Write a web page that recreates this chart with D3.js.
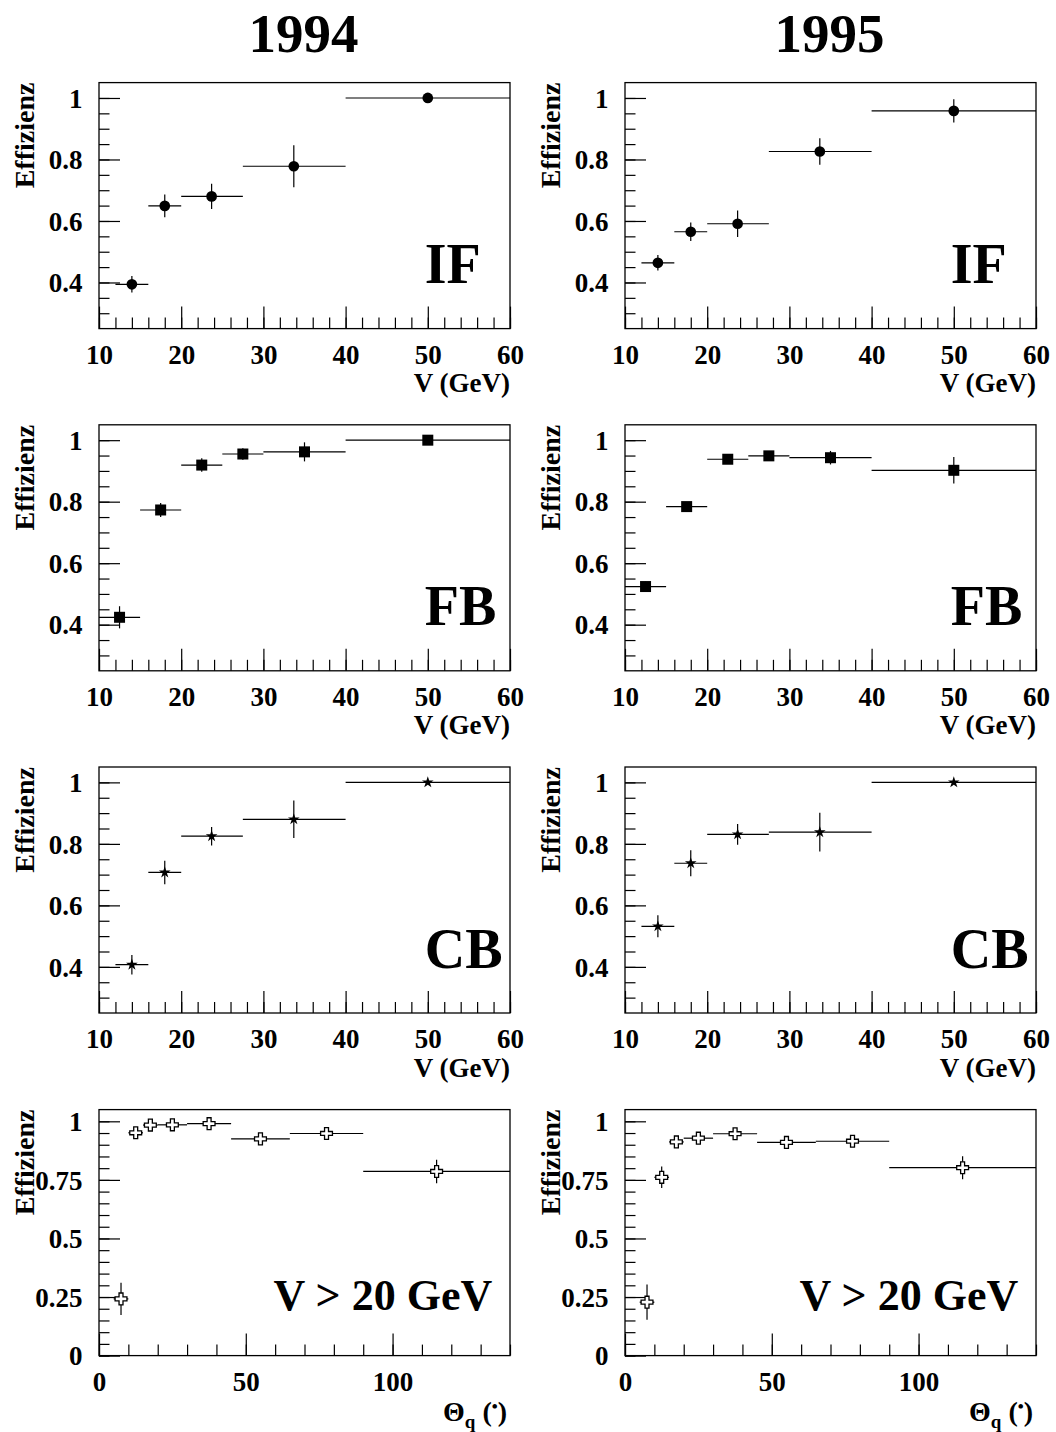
<!DOCTYPE html>
<html>
<head>
<meta charset="utf-8">
<script src="https://cdn.jsdelivr.net/npm/d3@7"></script>
<style>
  body { margin: 0; background: #fff; }
  svg { display: block; }
  text { font-family: "Liberation Serif", "Times New Roman", serif; font-weight: bold; fill: #000; }
</style>
</head>
<body>
<svg id="chart" width="1056" height="1432"></svg>
<script>
// ---------------- data ----------------
const years = ["1994", "1995"];

// Energy (V) binning for IF and CB
const vBinsIFCB = [[12, 16], [16, 20], [20, 27.5], [27.5, 40], [40, 60]];
const vCentersIFCB = [14, 18, 23.7, 33.7, 50];
// Energy (V) binning for FB
const vBinsFB = [[10, 15], [15, 20], [20, 25], [25, 30], [30, 40], [40, 60]];
const vCentersFB = [12.5, 17.5, 22.5, 27.5, 35, 50];
// Polar angle binning
const thBins = [[5, 10], [10, 15], [15, 20], [20, 30], [30, 45], [45, 65], [65, 90], [90, 140]];
const thCenters = [7.5, 12.5, 17.5, 25, 37.5, 55, 77.5, 115];

// IF
const eff94IF = [0.394, 0.649, 0.680, 0.778, 1.000];
const err94IF = [0.027, 0.037, 0.041, 0.068, 0.000];
const eff95IF = [0.464, 0.565, 0.591, 0.826, 0.958];
const err95IF = [0.025, 0.030, 0.043, 0.043, 0.038];
// FB
const eff94FB = [0.424, 0.773, 0.919, 0.955, 0.962, 1.000];
const err94FB = [0.036, 0.023, 0.022, 0.019, 0.031, 0.000];
const eff95FB = [0.524, 0.784, 0.938, 0.949, 0.943, 0.902];
const err95FB = [0.016, 0.015, 0.015, 0.015, 0.022, 0.043];
// CB
const eff94CB = [0.407, 0.707, 0.825, 0.880, 1.000];
const err94CB = [0.032, 0.038, 0.030, 0.061, 0.000];
const eff95CB = [0.532, 0.737, 0.831, 0.838, 1.000];
const err95CB = [0.036, 0.042, 0.034, 0.063, 0.000];
// Theta, V > 20 GeV
const eff94TH = [0.242, 0.951, 0.984, 0.985, 0.990, 0.925, 0.948, 0.786];
const err94TH = [0.069, 0.012, 0.010, 0.010, 0.010, 0.015, 0.012, 0.050];
const eff95TH = [0.228, 0.761, 0.912, 0.928, 0.947, 0.910, 0.915, 0.802];
const err95TH = [0.075, 0.046, 0.012, 0.012, 0.012, 0.014, 0.012, 0.049];

// Axis ticks
const vMajor = [10, 20, 30, 40, 50, 60];
const vMinor = d3.range(10, 61, 2);
const effMajor = [0.4, 0.6, 0.8, 1.0];
const effMinor = d3.range(0.3, 1.0001, 0.05);
const thMajor = [0, 50, 100];
const thMinor = d3.range(0, 141, 10);
const effThMajor = [0, 0.25, 0.5, 0.75, 1.0];
const effThMinor = d3.range(0, 1.0001, 0.05);

const panelLabels = ["IF", "FB", "CB", "V > 20 GeV"];

// ---------------- layout ----------------
const colX = [99, 625];
const rowY = [82.6, 424.8, 767, 1109.6];
const W = 411, H = 246;

const svg = d3.select("#chart");

// column titles
years.forEach((yr, c) => {
  svg.append("text")
    .attr("x", colX[c] + W / 2 - 1)
    .attr("y", 52)
    .attr("text-anchor", "middle")
    .attr("font-size", 55)
    .text(yr);
});

function build(pan) {
  const { r, c, bins, centers, eff, err, xDomain, yDomain, xMaj, xMin, yMaj, yMin, yFmt, marker, label, labelX, xTitle } = pan;
  const g = svg.append("g").attr("transform", `translate(${colX[c]},${rowY[r]})`);
  const x = d3.scaleLinear().domain(xDomain).range([0, W]);
  const y = d3.scaleLinear().domain(yDomain).range([H, 0]);

  // minor ticks (inside)
  g.append("g").attr("transform", `translate(0,${H})`)
    .call(d3.axisBottom(x).tickValues(xMin).tickSize(-11).tickFormat(""))
    .call(s => s.select(".domain").remove());
  g.append("g")
    .call(d3.axisLeft(y).tickValues(yMin).tickSize(-10.5).tickFormat(""))
    .call(s => s.select(".domain").remove());
  // major ticks + labels
  const xa = g.append("g").attr("transform", `translate(0,${H})`)
    .call(d3.axisBottom(x).tickValues(xMaj).tickSize(-22).tickFormat(d3.format("d")));
  xa.select(".domain").remove();
  xa.selectAll("text").attr("y", 35).attr("dy", 0)
    .attr("font-size", 27).attr("font-family", null).attr("fill", "#000");
  const ya = g.append("g")
    .call(d3.axisLeft(y).tickValues(yMaj).tickSize(-21).tickPadding(16.5).tickFormat(yFmt));
  ya.select(".domain").remove();
  ya.selectAll("text").attr("dy", "0.34em")
    .attr("font-size", 27).attr("font-family", null).attr("fill", "#000");
  g.selectAll(".tick line").attr("stroke", "#000").attr("stroke-width", 1.2);

  // frame
  g.append("rect").attr("x", 0).attr("y", 0).attr("width", W).attr("height", H)
    .attr("fill", "none").attr("stroke", "#000").attr("stroke-width", 1.3);

  // y title
  g.append("text")
    .attr("transform", `translate(${33.5 - colX[0]},0) rotate(-90)`)
    .attr("text-anchor", "end")
    .attr("font-size", 28)
    .text("Effizienz");

  // x title
  if (xTitle === "V") {
    g.append("text").attr("x", W).attr("y", H + 63.5).attr("text-anchor", "end")
      .attr("font-size", 27).text("V (GeV)");
  } else {
    const t = g.append("text").attr("x", W - 3).attr("y", H + 65).attr("text-anchor", "end")
      .attr("font-size", 28);
    t.append("tspan").text("Θ");
    t.append("tspan").attr("font-size", 19).attr("dy", 7).text("q");
    t.append("tspan").attr("dy", -7).text(" (");
    t.append("tspan").attr("font-size", 17).attr("dy", -9).text("•");
    t.append("tspan").attr("dy", 9).text(")");
  }

  // big label
  g.append("text").attr("x", x(labelX) - 3).attr("y", 200.7)
    .attr("font-size", r === 3 ? 44 : 56).text(label);

  // data
  const data = centers.map((cx, i) => ({ cx, lo: bins[i][0], hi: bins[i][1], v: eff[i], e: err[i] }));
  const pts = g.append("g");
  pts.selectAll(".hbar").data(data).join("line")
    .attr("x1", d => x(d.lo)).attr("x2", d => x(d.hi))
    .attr("y1", d => y(d.v)).attr("y2", d => y(d.v))
    .attr("stroke", "#000").attr("stroke-width", 1.2);
  pts.selectAll(".vbar").data(data.filter(d => d.e > 0)).join("line")
    .attr("x1", d => x(d.cx)).attr("x2", d => x(d.cx))
    .attr("y1", d => y(d.v - d.e)).attr("y2", d => y(d.v + d.e))
    .attr("stroke", "#000").attr("stroke-width", 1.2);
  const sym = {
    circle: d3.symbol(d3.symbolCircle, 90),
    square: d3.symbol(d3.symbolSquare, 121),
    star: d3.symbol(d3.symbolStar, 42),
    cross: d3.symbol(d3.symbolCross, 78)
  }[marker];
  pts.selectAll(".mk").data(data).join("path")
    .attr("transform", d => `translate(${x(d.cx)},${y(d.v)})`)
    .attr("d", sym())
    .attr("fill", marker === "cross" ? "#fff" : "#000")
    .attr("stroke", "#000")
    .attr("stroke-width", marker === "cross" ? 1.3 : 0);
}

const fmtEff = d => (d === 1 ? "1" : d3.format(".1f")(d));
const fmtEffTh = d => (d === 0 ? "0" : d === 1 ? "1" : String(+d.toFixed(2)));

const effSets = [
  [[eff94IF, err94IF], [eff95IF, err95IF]],
  [[eff94FB, err94FB], [eff95FB, err95FB]],
  [[eff94CB, err94CB], [eff95CB, err95CB]],
  [[eff94TH, err94TH], [eff95TH, err95TH]]
];
const markers = ["circle", "square", "star", "cross"];

for (let r = 0; r < 4; r++) {
  for (let c = 0; c < 2; c++) {
    const [eff, err] = effSets[r][c];
    if (r < 3) {
      build({
        r, c,
        bins: r === 1 ? vBinsFB : vBinsIFCB,
        centers: r === 1 ? vCentersFB : vCentersIFCB,
        eff, err,
        xDomain: [10, 60], yDomain: [0.25, 1.05],
        xMaj: vMajor, xMin: vMinor, yMaj: effMajor, yMin: effMinor, yFmt: fmtEff,
        marker: markers[r], label: panelLabels[r], labelX: 50, xTitle: "V"
      });
    } else {
      build({
        r, c, bins: thBins, centers: thCenters, eff, err,
        xDomain: [0, 140], yDomain: [0, 1.05],
        xMaj: thMajor, xMin: thMinor, yMaj: effThMajor, yMin: effThMinor, yFmt: fmtEffTh,
        marker: markers[r], label: panelLabels[r], labelX: 60.5, xTitle: "TH"
      });
    }
  }
}
</script>
</body>
</html>
